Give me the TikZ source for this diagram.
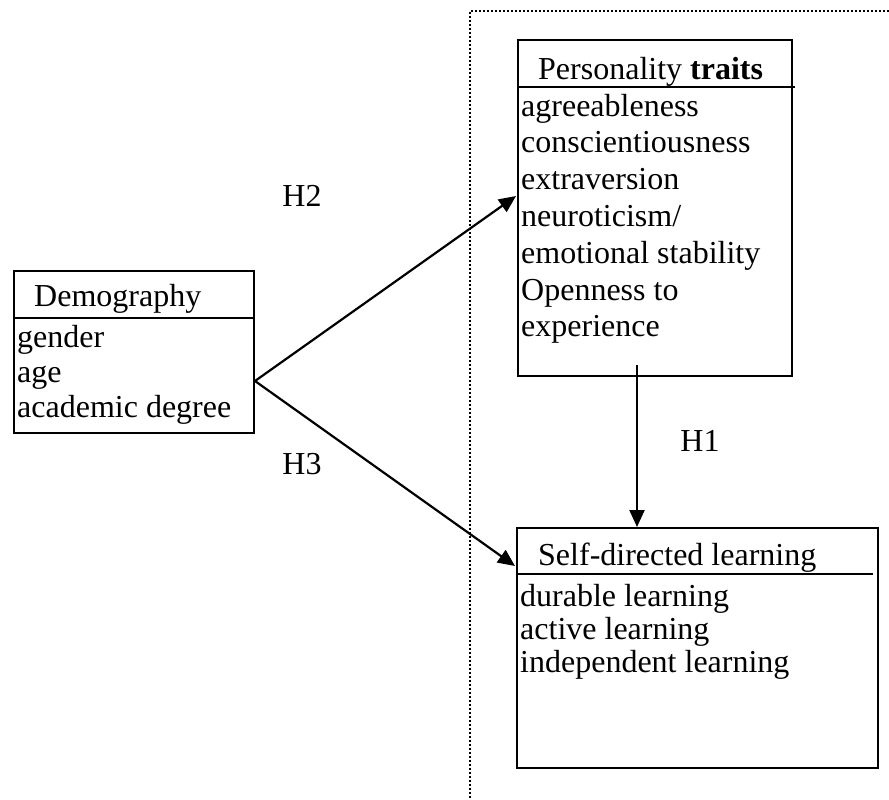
\documentclass[tikz,border=0pt]{standalone}
\usepackage{fontspec}
\setmainfont{Liberation Serif}
\usetikzlibrary{arrows.meta}
\begin{document}
\begin{tikzpicture}[x=1pt,y=-1pt,
  boxline/.style={line width=2pt},
  conn/.style={line width=2.2pt,-{Triangle[length=17pt,width=15pt]}},
  frame/.style={line width=1.4pt,dash pattern=on 2pt off 2pt},
  txt/.style={anchor=base west,inner sep=0pt,font=\fontsize{32}{36}\selectfont},
  hlab/.style={anchor=base,inner sep=0pt,font=\fontsize{32}{36}\selectfont}]
\useasboundingbox (0,0) rectangle (889,800);
% dotted frame
\coordinate (f1) at (889,11);
\coordinate (f2) at (470,11);
\coordinate (f3) at (470,800);
\draw[frame] (f1) -- (f2) -- (f3);
% boxes
\node[boxline,draw,rectangle,minimum width=240pt,minimum height=162pt,anchor=north west,inner sep=0pt] (demo) at (13,270) {};
\node[boxline,draw,rectangle,minimum width=274pt,minimum height=336pt,anchor=north west,inner sep=0pt] (pers) at (517,39) {};
\node[boxline,draw,rectangle,minimum width=361pt,minimum height=240pt,anchor=north west,inner sep=0pt] (sdl) at (516,527) {};
% header lines
\coordinate (d1) at (13,318); \coordinate (d2) at (253,318);
\coordinate (p1) at (517,87); \coordinate (p2) at (795,87);
\coordinate (s1) at (516,574); \coordinate (s2) at (873,574);
\draw[boxline] (d1) -- (d2);
\draw[boxline] (p1) -- (p2);
\draw[boxline] (s1) -- (s2);
% Demography texts
\node[txt] (dh) at (34,306) {Demography};
\node[txt] (d-a) at (17,347) {gender};
\node[txt] (d-b) at (17,382) {age};
\node[txt] (d-c) at (17,417) {academic degree};
% Personality texts
\node[txt] (ph) at (538,79) {Personality \textbf{traits}};
\node[txt] (p-a) at (521,116) {agreeableness};
\node[txt] (p-b) at (521,152.8) {conscientiousness};
\node[txt] (p-c) at (521,189.6) {extraversion};
\node[txt] (p-d) at (521,226.4) {neuroticism/};
\node[txt] (p-e) at (521,263.2) {emotional stability};
\node[txt] (p-f) at (521,300) {Openness to};
\node[txt] (p-g) at (521,336.8) {experience};
% Self-directed texts
\node[txt] (sh) at (538,565) {Self-directed learning};
\node[txt] (s-a) at (520,606) {durable learning};
\node[txt] (s-b) at (520,639) {active learning};
\node[txt] (s-c) at (520,672) {independent learning};
% connectors
\coordinate (dsrc) at (255,381);
\coordinate (ptgt) at (516,196);
\coordinate (stgt) at (515,566);
\coordinate (psrc) at (637,365);
\coordinate (sdtop) at (637,527);
\draw[conn] (dsrc) -- (ptgt);
\draw[conn] (dsrc) -- (stgt);
\draw[conn] (psrc) -- (sdtop);
% labels
\node[hlab] (h2) at (302,206) {H2};
\node[hlab] (h3) at (302,474) {H3};
\node[hlab] (h1) at (700,451) {H1};
\end{tikzpicture}
\end{document}
